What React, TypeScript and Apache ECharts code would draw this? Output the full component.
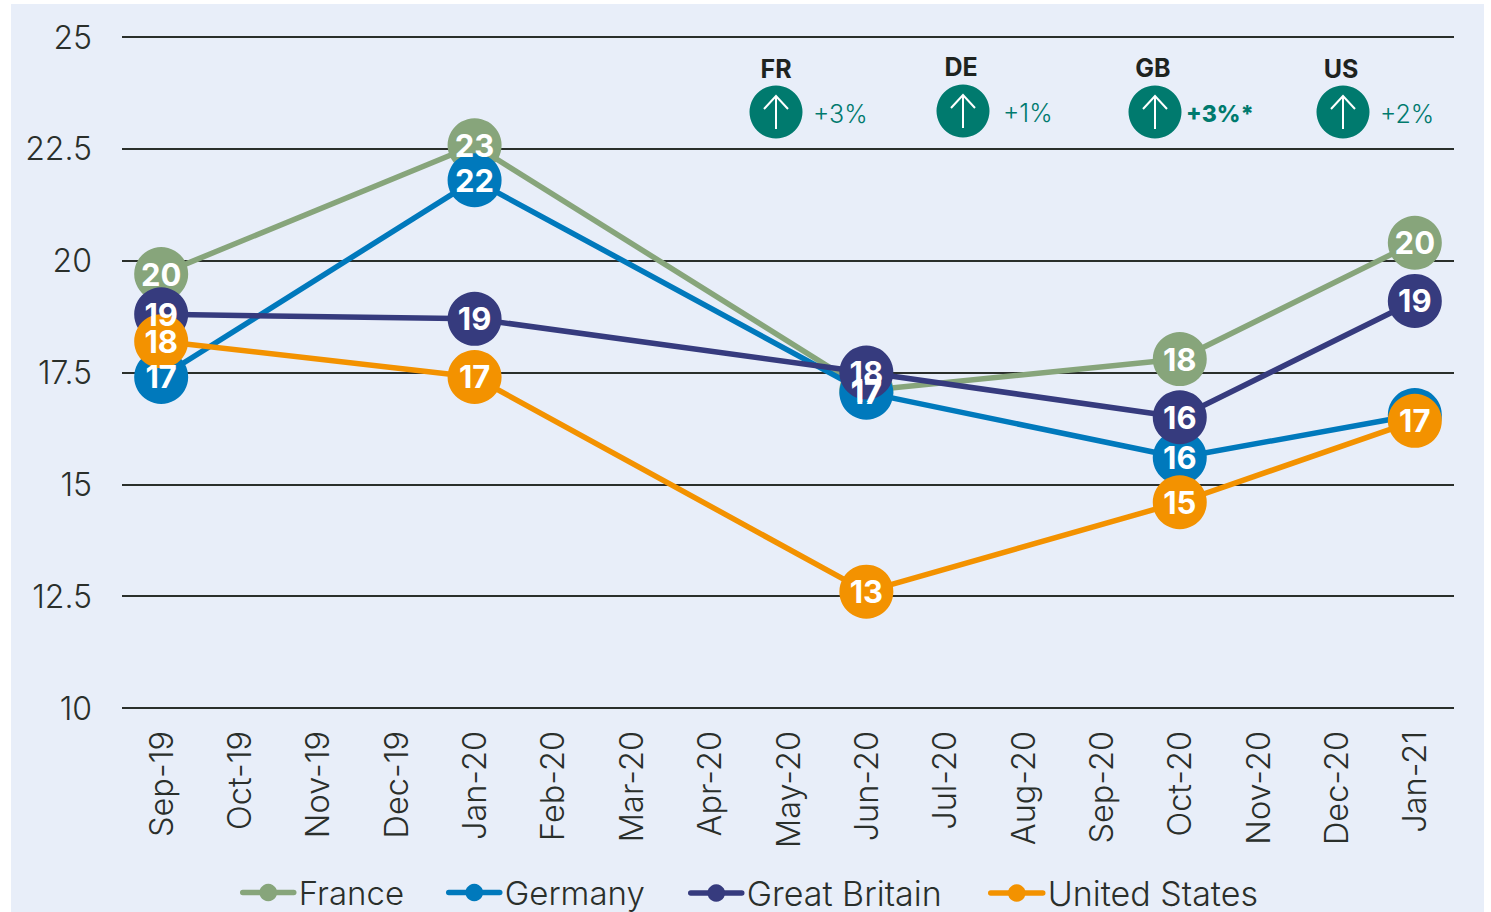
import React, { useEffect, useRef } from "react";
import * as echarts from "echarts";

const months = ["Sep-19","Oct-19","Nov-19","Dec-19","Jan-20","Feb-20","Mar-20","Apr-20","May-20","Jun-20","Jul-20","Aug-20","Sep-20","Oct-20","Nov-20","Dec-20","Jan-21"];
const n = null;
const france = [19.7,n,n,n,22.58,n,n,n,n,17.1,n,n,n,17.8,n,n,20.4];
const germany = [17.4,n,n,n,21.8,n,n,n,n,17.05,n,n,n,15.6,n,n,16.55];
const britain = [18.8,n,n,n,18.7,n,n,n,n,17.5,n,n,n,16.5,n,n,19.1];
const usa = [18.2,n,n,n,17.4,n,n,n,n,12.6,n,n,n,14.6,n,n,16.42];
const franceLabels = [20,n,n,n,23,n,n,n,n,17,n,n,n,18,n,n,20];
const germanyLabels = [17,n,n,n,22,n,n,n,n,17,n,n,n,16,n,n,n];
const britainLabels = [19,n,n,n,19,n,n,n,n,18,n,n,n,16,n,n,19];
const usaLabels = [18,n,n,n,17,n,n,n,n,13,n,n,n,15,n,n,17];
const changeCodes = ["FR","DE","GB","US"];
const changeTexts = ["+3%","+1%","+3%*","+2%"];

const FONT = "Inter";
const TEAL = "#007A6E";
const INK = "#2A2F2B";

function makeSeries(name: string, data: any[], labels: any[], color: string) {
  return {
    name, type: "line", data, connectNulls: true,
    symbol: "circle", symbolSize: 54,
    itemStyle: { color },
    lineStyle: { color, width: 5.5 },
    label: {
      show: true, position: "inside", color: "#fff", fontFamily: FONT, fontWeight: 700, fontSize: 31,
      formatter: (p: any) => (labels[p.dataIndex] == null ? "" : String(labels[p.dataIndex])),
    },
    emphasis: { disabled: true },
  };
}

function legendItem(name: string, left: number, itemWidth: number, fontSize: number) {
  return {
    left, top: 876, padding: 0, itemWidth, itemHeight: 22, data: [name],
    lineStyle: { width: 5.5, cap: "round" },
    textStyle: { color: INK, fontFamily: FONT, fontWeight: 300, fontSize },
  };
}

function badge(i: number, cx: number, cy: number, labelX: number, labelY: number, textX: number) {
  const bold = changeTexts[i].includes("*");
  return [
    { type: "text", x: labelX, y: labelY, style: { text: changeCodes[i], fontFamily: FONT, fontWeight: 700, fontSize: 25, fill: "#1E231F", align: "center", verticalAlign: "middle" } },
    { type: "circle", shape: { cx, cy, r: 26.5 }, style: { fill: TEAL } },
    { type: "polyline", shape: { points: [[cx, cy + 17], [cx, cy - 16]] }, style: { stroke: "#fff", lineWidth: 2, fill: "none" } },
    { type: "polyline", shape: { points: [[cx - 12, cy - 3], [cx, cy - 16], [cx + 12, cy - 3]] }, style: { stroke: "#fff", lineWidth: 2, fill: "none" } },
    { type: "text", x: textX, y: cy + 2, style: { text: changeTexts[i], fontFamily: FONT, fontWeight: bold ? 800 : 300, fontSize: bold ? 23 : 25, fill: TEAL, align: "left", verticalAlign: "middle" } },
  ];
}

export default function App() {
  const ref = useRef<HTMLDivElement>(null);
  useEffect(() => {
    const chart = echarts.init(ref.current!, undefined, { renderer: "svg" });
    chart.setOption({
      animation: false,
      backgroundColor: "transparent",
      grid: { left: 122, right: 37, top: 37, bottom: 204, containLabel: false },
      xAxis: {
        type: "category", data: months, boundaryGap: true,
        axisLine: { show: false }, axisTick: { show: false }, splitLine: { show: false },
        axisLabel: { interval: 0, rotate: 90, margin: 23, color: INK, fontFamily: FONT, fontWeight: 300, fontSize: 32.5 },
      },
      yAxis: {
        type: "value", min: 10, max: 25, interval: 2.5,
        axisLine: { show: false }, axisTick: { show: false },
        splitLine: { lineStyle: { color: INK, width: 2 } },
        axisLabel: { margin: 30, color: INK, fontFamily: FONT, fontWeight: 300, fontSize: 32 },
      },
      legend: [
        legendItem("France", 240, 51, 33),
        legendItem("Germany", 446, 51, 33),
        legendItem("Great Britain", 688, 51, 34),
        legendItem("United States", 988, 52, 34),
      ],
      graphic: [
        ...badge(0, 776, 112, 776, 69, 813),
        ...badge(1, 963, 111, 961, 67, 1003),
        ...badge(2, 1155, 112, 1153, 68, 1186),
        ...badge(3, 1343, 112, 1341, 69, 1380),
      ],
      series: [
        makeSeries("France", france, franceLabels, "#87A57B"),
        makeSeries("Germany", germany, germanyLabels, "#0079BC"),
        makeSeries("Great Britain", britain, britainLabels, "#363B7E"),
        makeSeries("United States", usa, usaLabels, "#F39200"),
      ],
    });
    return () => chart.dispose();
  }, []);
  return (
    <div style={{ position: "fixed", left: 0, top: 0, width: 1491, height: 912, background: "#fff" }}>
      <div style={{ position: "absolute", left: 11, top: 4, width: 1473, height: 908, background: "#E8EEF9" }} />
      <div ref={ref} style={{ position: "absolute", left: 0, top: 0, width: 1491, height: 912 }} />
    </div>
  );
}
